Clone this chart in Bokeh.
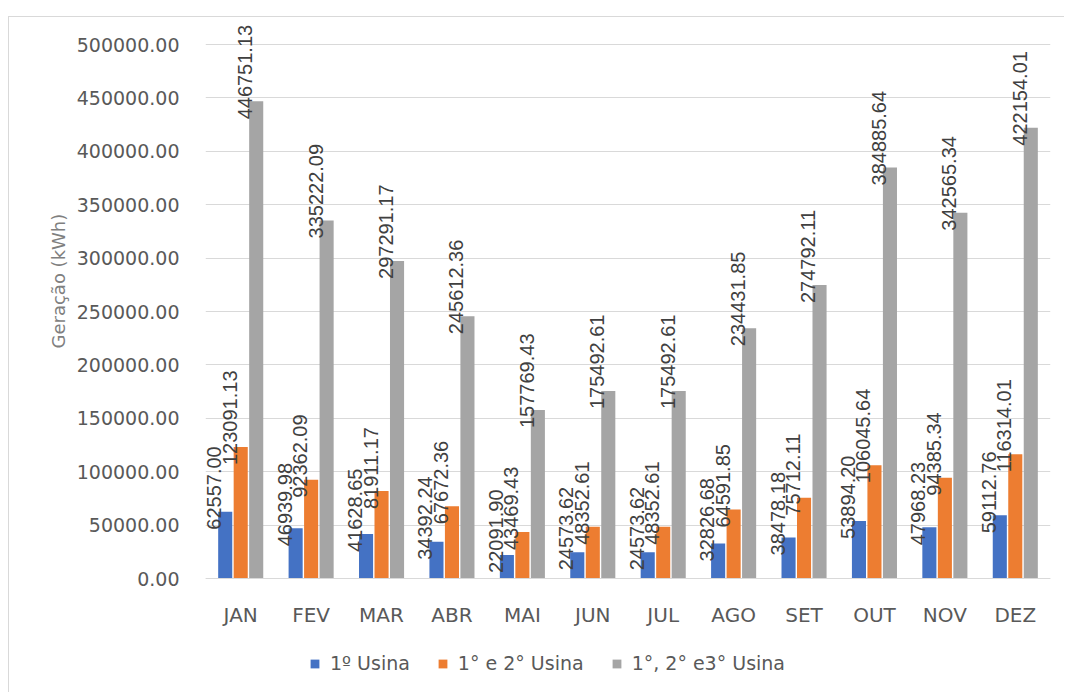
import math
from bokeh.plotting import figure
from bokeh.models import (ColumnDataSource, Range1d, NumeralTickFormatter, Legend,
                          LegendItem, Title, FixedTicker)
from bokeh.transform import dodge
from bokeh.core.properties import value
from bokeh.embed import file_html
from bokeh.resources import INLINE

months = ["JAN", "FEV", "MAR", "ABR", "MAI", "JUN", "JUL", "AGO", "SET", "OUT", "NOV", "DEZ"]
usina1 = [62557.00, 46939.98, 41628.65, 34392.24, 22091.90, 24573.62, 24573.62,
          32826.68, 38478.18, 53894.20, 47968.23, 59112.76]
usina12 = [123091.13, 92362.09, 81911.17, 67672.36, 43469.43, 48352.61, 48352.61,
           64591.85, 75712.11, 106045.64, 94385.34, 116314.01]
usina123 = [446751.13, 335222.09, 297291.17, 245612.36, 157769.43, 175492.61, 175492.61,
            234431.85, 274792.11, 384885.64, 342565.34, 422154.01]
series_names = ["1º Usina", "1° e 2° Usina", "1°, 2° e3° Usina"]
y_ticks = [0, 50000, 100000, 150000, 200000, 250000, 300000, 350000, 400000, 450000, 500000]
y_title = "Geração (kWh)"

src = ColumnDataSource(dict(
    m=months, s1=usina1, s2=usina12, s3=usina123,
    l1=[f"{v:.2f}" for v in usina1],
    l2=[f"{v:.2f}" for v in usina12],
    l3=[f"{v:.2f}" for v in usina123],
))

# frame geometry (screen px): value 0 at 578, 500000 at 44; frame spans 18..690
px_per_unit = (578 - 44) / 500000
y_end = (578 - 18) / px_per_unit
y_start = -(690 - 578) / px_per_unit

p = figure(x_range=months, y_range=Range1d(y_start, y_end), width=1056, height=676,
           output_backend="svg", toolbar_location=None,
           min_border_left=196, min_border_right=15, min_border_top=1, min_border_bottom=3)
p.margin = (16, 0, 0, 8)
p.styles = {"border-left": "1px solid #d9d9d9", "border-top": "1px solid #d9d9d9"}
p.outline_line_color = None
p.background_fill_color = "white"
p.border_fill_color = "white"

colors = ["#4472C4", "#ED7D31", "#A5A5A5"]
offsets = [-0.22, 0.0, 0.22]
cols = ["s1", "s2", "s3"]
lcols = ["l1", "l2", "l3"]
renderers = []
for c, lc, off, col in zip(cols, lcols, offsets, colors):
    r = p.vbar(x=dodge("m", off, range=p.x_range), top=c, width=0.2, source=src,
               fill_color=col, line_color=None)
    renderers.append(r)
    p.text(x=dodge("m", off - 0.1, range=p.x_range), y=c, text=lc, source=src,
           angle=math.pi / 2, text_align="left", text_baseline="alphabetic",
           x_offset=-4, y_offset=18, text_font=value("Liberation Sans"),
           text_font_size="20px", text_color="#404040")

p.yaxis.ticker = FixedTicker(ticks=y_ticks)
p.yaxis.formatter = NumeralTickFormatter(format="0.00")
p.yaxis.axis_line_color = None
p.yaxis.major_tick_line_color = None
p.yaxis.minor_tick_line_color = None
p.yaxis.major_label_text_font = "DejaVu Sans"
p.yaxis.major_label_text_font_size = "19px"
p.yaxis.major_label_text_color = "#595959"
p.yaxis.major_label_standoff = 20

p.xaxis.fixed_location = 0
p.xaxis.axis_line_color = "#d9d9d9"
p.xaxis.major_tick_line_color = None
p.xaxis.minor_tick_line_color = None
p.xaxis.major_label_text_font = "DejaVu Sans"
p.xaxis.major_label_text_font_size = "20px"
p.xaxis.major_label_text_color = "#595959"
p.xaxis.major_label_standoff = 18

p.xgrid.grid_line_color = None
p.ygrid.grid_line_color = "#d9d9d9"
p.ygrid.grid_line_width = 1

p.add_layout(Title(text=y_title, align="left", offset=342, text_font="DejaVu Sans",
                   text_font_size="18px", text_font_style="normal", text_color="#7f7f7f"),
             "left")

items = [LegendItem(label=n, renderers=[r]) for n, r in zip(series_names, renderers)]
legend = Legend(items=items, orientation="horizontal", location=(104, 16),
                label_text_font="DejaVu Sans", label_text_font_size="19px",
                label_text_color="#595959", glyph_width=11, glyph_height=11,
                label_standoff=10, spacing=27, padding=0, margin=0,
                border_line_color=None, background_fill_alpha=0)
p.add_layout(legend)

open("out.html", "w").write(file_html(p, INLINE))
